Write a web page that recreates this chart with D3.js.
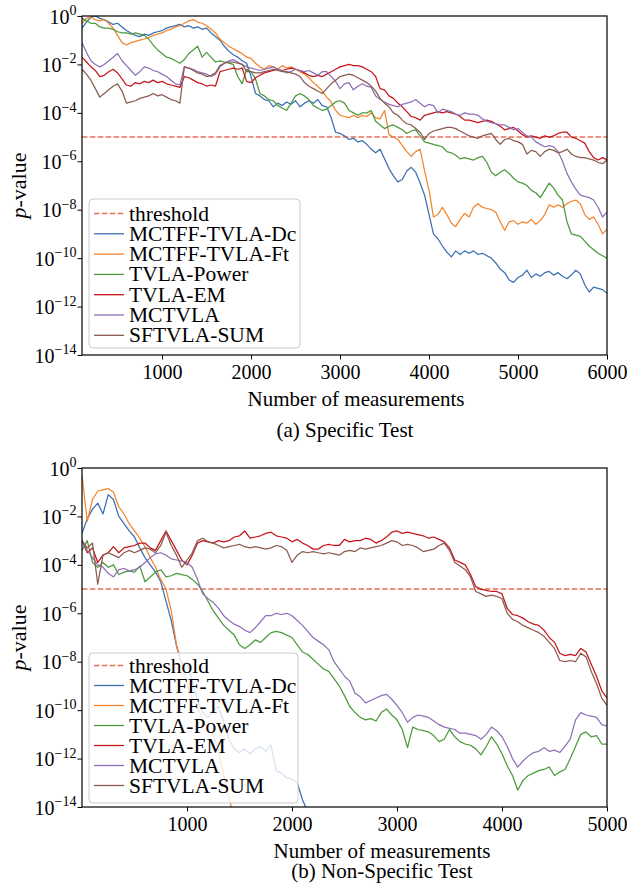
<!DOCTYPE html>
<html>
<head>
<meta charset="utf-8">
<script src="https://cdn.jsdelivr.net/npm/d3@7/dist/d3.min.js"></script>
<style>
  body { margin: 0; background: #fff; }
  svg, svg text, svg tspan { font-family: "Liberation Serif", "Times New Roman", Times, "DejaVu Serif", serif !important; }
  svg text { fill: #000; }
</style>
</head>
<body>
<div id="chart"></div>
<script>
// series names and colours, in legend order
const names = ["MCTFF-TVLA-Dc", "MCTFF-TVLA-Ft", "TVLA-Power", "TVLA-EM", "MCTVLA", "SFTVLA-SUM"];
const colors = ["#3b6fb2", "#f28530", "#4c9a3c", "#c4161c", "#8f70b8", "#8c5b4f"];
const thresholdColor = "#e8705a";
const threshold = 1e-5;
const yExps = [0, -2, -4, -6, -8, -10, -12, -14];

// (a) Specific Test, from 100 to 6000 measurements
const aStart = 100, aStep = 50;
const aTicks = [1000, 2000, 3000, 4000, 5000, 6000];
const aDc = [-0.5,-0.25,-0.05,0,-0.1,-0.15,-0.25,-0.35,-0.3,-0.45,
  -0.6,-0.7,-0.8,-0.85,-0.75,-0.8,-0.7,-0.65,-0.6,-0.5,
  -0.45,-0.4,-0.35,-0.45,-0.4,-0.5,-0.45,-0.55,-0.5,-0.7,
  -0.85,-1.0,-1.25,-1.45,-1.6,-1.7,-1.85,-1.95,-2.5,-3.2,
  -3.3,-3.45,-3.5,-3.75,-3.6,-3.7,-3.55,-3.65,-3.5,-3.75,
  -3.6,-3.5,-3.6,-3.45,-3.7,-3.75,-4.2,-4.8,-4.85,-4.95,
  -5.1,-5.05,-5.2,-5.15,-5.3,-5.5,-5.65,-5.5,-5.9,-6.3,
  -6.6,-6.85,-6.75,-6.4,-6.25,-6.45,-6.9,-7.4,-8.2,-9.0,
  -9.2,-9.5,-9.75,-9.95,-9.7,-9.85,-9.7,-9.8,-9.7,-9.85,
  -9.8,-9.9,-10.0,-10.2,-10.45,-10.6,-10.9,-11.0,-10.8,-10.7,
  -10.5,-10.8,-10.65,-10.75,-10.6,-10.55,-10.7,-10.6,-10.75,-10.85,
  -10.7,-10.5,-10.65,-11.1,-11.4,-11.2,-11.25,-11.3,-11.45];
const aFt = [-0.3,-0.1,-0.05,-0.15,-0.2,-0.15,-0.3,-0.5,-0.8,-1.1,
  -1.2,-1.1,-1.05,-1.0,-0.95,-0.9,-0.8,-0.75,-0.7,-0.6,
  -0.55,-0.45,-0.4,-0.3,-0.2,-0.15,-0.25,-0.3,-0.4,-0.55,
  -0.7,-0.95,-1.1,-1.25,-1.35,-1.45,-1.55,-1.7,-1.75,-1.95,
  -2.1,-2.2,-2.05,-2.1,-2.2,-2.05,-2.15,-2.1,-2.2,-2.3,
  -2.4,-2.55,-2.75,-2.9,-3.1,-3.35,-3.55,-3.9,-4.1,-4.15,
  -4.2,-4.1,-4.2,-4.1,-4.15,-4.0,-4.2,-4.25,-3.9,-4.9,
  -5.0,-5.1,-5.35,-5.6,-5.8,-5.6,-5.5,-6.4,-7.2,-8.3,
  -8.2,-7.9,-8.2,-8.55,-8.7,-8.4,-8.15,-8.3,-7.9,-7.75,
  -7.9,-7.95,-8.0,-8.1,-8.5,-8.85,-8.5,-8.45,-8.6,-8.5,
  -8.55,-8.4,-8.6,-8.45,-8.2,-7.8,-7.9,-7.8,-7.9,-7.75,
  -7.65,-7.6,-7.75,-8.2,-8.4,-8.3,-8.6,-9.0,-8.8];
const aPow = [-0.1,-0.2,-0.3,-0.3,-0.45,-0.5,-0.5,-0.55,-0.65,-0.7,
  -0.7,-0.75,-0.7,-0.75,-0.8,-0.95,-1.2,-1.4,-1.55,-1.7,
  -1.75,-1.85,-1.95,-1.8,-1.55,-1.4,-1.25,-1.7,-1.5,-1.7,
  -1.9,-1.85,-1.9,-1.95,-2.0,-2.5,-2.8,-2.2,-2.3,-2.6,
  -3.2,-3.3,-3.45,-3.5,-3.7,-3.8,-3.9,-3.6,-3.3,-3.2,
  -3.3,-3.45,-3.7,-3.8,-3.9,-3.85,-3.7,-3.55,-3.5,-3.6,
  -3.9,-4.0,-4.1,-4.0,-4.0,-3.9,-4.35,-4.5,-4.65,-4.55,
  -4.5,-4.6,-4.7,-4.85,-4.75,-4.7,-4.95,-5.2,-5.25,-5.3,
  -5.35,-5.4,-5.6,-5.65,-5.75,-5.9,-5.85,-5.9,-5.95,-5.85,
  -5.8,-6.05,-6.45,-6.6,-6.45,-6.35,-6.5,-6.7,-6.85,-6.9,
  -7.0,-7.2,-7.3,-7.5,-7.2,-6.9,-7.1,-7.4,-7.6,-8.5,
  -9.0,-9.05,-9.1,-9.3,-9.5,-9.65,-9.8,-9.9,-10.0];
const aEM = [-1.7,-1.9,-2.1,-2.25,-2.5,-2.45,-2.3,-2.2,-2.35,-2.6,
  -2.85,-2.9,-2.75,-2.8,-2.7,-2.75,-2.65,-2.75,-2.7,-2.8,
  -2.85,-2.9,-2.95,-2.5,-2.55,-2.65,-2.75,-2.8,-2.9,-2.85,
  -2.9,-2.3,-2.25,-2.2,-2.15,-2.2,-2.15,-2.7,-2.75,-2.55,
  -2.45,-2.35,-2.3,-2.25,-2.2,-2.25,-2.2,-2.15,-2.2,-2.25,
  -2.35,-2.45,-2.5,-2.45,-2.5,-2.4,-2.3,-2.2,-2.1,-2.05,
  -2.0,-2.05,-2.05,-2.1,-2.2,-2.3,-2.5,-3.0,-3.05,-3.3,
  -3.4,-3.6,-3.75,-3.95,-4.15,-4.2,-4.3,-4.1,-4.05,-4.0,
  -3.95,-4.0,-3.95,-4.0,-4.05,-4.15,-4.3,-4.3,-4.35,-4.4,
  -4.35,-4.3,-4.35,-4.45,-4.55,-4.7,-4.65,-4.6,-4.75,-4.9,
  -5.0,-4.95,-5.0,-5.05,-4.95,-5.0,-4.95,-4.85,-4.8,-4.8,
  -5.0,-5.05,-5.15,-5.25,-5.6,-5.85,-5.95,-5.85,-5.95];
const aMC = [-1.1,-1.5,-1.85,-2.0,-2.1,-2.0,-1.85,-1.7,-1.55,-1.85,
  -2.05,-2.25,-2.45,-2.3,-2.1,-2.15,-2.25,-2.3,-2.4,-2.5,
  -2.65,-2.8,-2.85,-2.1,-2.15,-2.2,-2.3,-2.35,-2.4,-2.5,
  -2.4,-2.1,-1.95,-1.85,-1.8,-1.9,-2.0,-2.1,-2.15,-2.2,
  -2.25,-2.2,-2.15,-2.1,-2.2,-2.25,-2.35,-2.3,-2.2,-2.25,
  -2.3,-2.25,-2.35,-2.45,-2.3,-2.3,-2.5,-2.7,-3.0,-2.8,
  -2.75,-3.05,-2.9,-2.8,-2.9,-2.95,-3.3,-3.45,-3.55,-3.65,
  -3.7,-3.75,-3.65,-3.6,-3.55,-3.45,-3.6,-3.75,-3.65,-3.7,
  -4.0,-3.85,-3.9,-3.95,-4.05,-4.1,-4.0,-4.05,-4.05,-4.1,
  -4.25,-4.35,-4.4,-4.45,-4.5,-4.5,-4.6,-4.7,-4.65,-4.8,
  -4.95,-5.0,-5.2,-5.3,-5.4,-5.35,-5.4,-5.6,-6.0,-6.5,
  -6.85,-7.15,-7.4,-7.45,-7.5,-7.6,-7.9,-8.3,-8.1];
const aSF = [-2.2,-2.4,-2.65,-3.0,-3.35,-3.2,-3.05,-2.9,-2.8,-3.1,
  -3.6,-3.55,-3.5,-3.4,-3.35,-3.3,-3.2,-3.3,-3.25,-3.35,
  -3.45,-3.5,-3.6,-2.1,-2.15,-2.25,-2.35,-2.4,-2.5,-2.45,
  -2.35,-2.05,-1.95,-1.9,-1.9,-1.95,-2.0,-2.3,-2.3,-2.35,
  -2.35,-2.3,-2.25,-2.2,-2.25,-2.3,-2.3,-2.35,-2.4,-2.5,
  -2.75,-2.9,-3.0,-3.1,-3.2,-3.0,-2.8,-2.65,-2.5,-2.45,
  -2.4,-2.45,-2.55,-2.65,-2.75,-2.9,-3.1,-3.4,-3.6,-3.75,
  -4.0,-4.1,-4.3,-4.45,-4.5,-4.65,-4.8,-5.1,-4.85,-4.75,
  -4.7,-4.65,-4.6,-4.6,-4.65,-4.75,-4.85,-4.95,-5.0,-5.05,
  -4.95,-4.9,-4.85,-5.1,-5.3,-5.1,-5.05,-5.15,-5.2,-5.3,
  -5.7,-5.55,-5.6,-5.8,-5.6,-5.5,-5.55,-5.65,-5.6,-5.5,
  -5.7,-5.8,-5.85,-5.85,-5.9,-5.95,-6.05,-6.1,-5.95];

// (b) Non-Specific Test, from 0 to 5000 measurements (Dc and Ft leave the plot early)
const bStart = 0, bStep = 50;
const bTicks = [1000, 2000, 3000, 4000, 5000];
const bDc = [-2.7,-2.1,-1.7,-1.45,-1.9,-1.1,-1.3,-2.0,-2.3,-2.6,
  -2.85,-3.3,-3.7,-4.0,-4.3,-4.7,-5.5,-6.3,-7.35,-8.1,
  -8.0,-8.8,-9.6,-10.1,-10.3,-10.0,-9.85,-10.5,-11.2,-11.6,
  -11.75,-11.6,-11.8,-11.6,-11.5,-11.7,-11.45,-12.5,-12.6,-12.8,
  -12.85,-13.0,-13.7,-14.2];
const bFt = [-0.3,-2.2,-1.3,-0.95,-0.9,-0.85,-1.0,-1.6,-1.9,-2.3,
  -2.6,-2.9,-3.25,-3.7,-4.1,-4.6,-5.0,-5.9,-7.3,-8.2,
  -8.9,-9.5,-9.9,-10.4,-10.8,-11.0,-11.7,-12.7,-13.6,-14.5];
const bPow = [-3.4,-3.0,-3.9,-4.1,-3.9,-4.1,-4.0,-4.4,-4.3,-4.25,
  -4.3,-4.05,-4.7,-4.5,-4.3,-4.2,-4.5,-4.45,-4.35,-4.4,
  -4.45,-4.6,-4.8,-5.1,-5.5,-5.9,-6.2,-6.5,-6.7,-6.9,
  -7.3,-7.45,-7.3,-7.1,-7.2,-7.0,-6.8,-6.75,-6.8,-6.9,
  -7.0,-7.3,-7.6,-7.7,-7.9,-8.1,-8.3,-8.4,-8.7,-9.0,
  -9.4,-9.85,-10.1,-10.3,-10.4,-10.35,-10.45,-10.1,-9.95,-10.2,
  -10.4,-10.8,-11.55,-10.7,-10.8,-10.85,-10.9,-11.05,-11.3,-11.2,
  -10.8,-11.1,-11.3,-11.4,-11.45,-11.6,-11.85,-11.5,-11.1,-11.4,
  -11.8,-12.3,-12.7,-13.3,-12.9,-12.7,-12.6,-12.5,-12.45,-12.35,
  -12.7,-12.55,-12.45,-12.0,-11.5,-11.0,-10.9,-11.1,-11.05,-11.4,
  -11.4];
const bEM = [-3.0,-3.5,-3.3,-3.9,-3.6,-3.5,-3.25,-3.5,-3.3,-3.25,
  -3.2,-3.1,-3.1,-3.3,-3.4,-3.0,-2.6,-3.0,-3.4,-3.8,
  -4.0,-3.6,-3.1,-3.0,-3.05,-3.1,-3.0,-3.05,-3.0,-2.85,
  -2.8,-2.6,-2.9,-2.85,-2.8,-2.7,-2.65,-2.8,-2.85,-2.9,
  -3.05,-2.95,-3.1,-3.2,-3.35,-3.35,-3.2,-3.15,-3.2,-3.2,
  -2.95,-3.05,-3.0,-3.0,-2.9,-2.95,-3.1,-3.0,-2.85,-2.65,
  -2.6,-2.7,-2.65,-2.7,-2.75,-2.8,-2.9,-2.85,-2.95,-3.05,
  -3.3,-3.8,-3.9,-4.0,-4.4,-4.9,-5.0,-5.05,-5.1,-5.1,
  -5.2,-5.8,-6.05,-6.1,-6.2,-6.35,-6.45,-6.5,-6.7,-7.0,
  -7.2,-7.65,-7.75,-7.7,-7.75,-7.45,-7.6,-8.1,-8.6,-9.2,
  -9.5];
const bMC = [-3.0,-3.4,-3.7,-4.0,-4.1,-4.35,-4.5,-4.2,-4.15,-4.25,
  -4.2,-4.1,-3.9,-3.7,-3.55,-3.5,-3.6,-3.75,-3.8,-3.85,
  -3.9,-4.1,-4.6,-5.2,-5.4,-5.55,-5.8,-6.1,-6.3,-6.45,
  -6.55,-6.7,-6.8,-6.6,-6.35,-6.1,-6.1,-6.0,-6.05,-6.0,
  -6.1,-6.3,-6.5,-6.75,-7.0,-7.15,-7.3,-7.5,-8.0,-8.3,
  -8.6,-8.8,-9.3,-9.45,-9.7,-9.6,-9.5,-9.4,-9.35,-9.55,
  -9.8,-10.1,-10.5,-10.3,-10.2,-10.25,-10.3,-10.45,-10.6,-10.7,
  -10.75,-10.8,-10.95,-10.95,-11.0,-11.05,-11.2,-11.0,-10.7,-10.85,
  -11.1,-11.5,-12.0,-12.35,-12.1,-11.9,-11.75,-11.7,-11.55,-11.7,
  -11.65,-11.75,-11.5,-11.2,-10.4,-10.1,-10.2,-10.25,-10.3,-10.6,
  -10.65];
const bSF = [-3.0,-3.3,-3.1,-4.8,-3.6,-3.5,-3.6,-3.7,-3.5,-3.4,
  -3.5,-3.4,-3.3,-3.35,-3.5,-3.2,-2.65,-3.2,-3.6,-4.1,
  -3.8,-3.5,-3.0,-2.9,-3.05,-3.1,-3.2,-3.3,-3.25,-3.2,
  -3.15,-3.25,-3.3,-3.25,-3.3,-3.35,-3.3,-3.2,-3.25,-3.4,
  -3.9,-3.6,-3.45,-3.5,-3.45,-3.5,-3.55,-3.5,-3.55,-3.6,
  -3.45,-3.4,-3.45,-3.3,-3.35,-3.3,-3.25,-3.2,-3.1,-3.0,
  -3.05,-3.2,-3.15,-3.2,-3.3,-3.45,-3.4,-3.35,-3.2,-3.1,
  -3.4,-3.9,-4.05,-4.2,-4.5,-5.1,-5.2,-5.3,-5.25,-5.3,
  -5.4,-6.0,-6.25,-6.35,-6.5,-6.6,-6.7,-6.8,-6.95,-7.2,
  -7.45,-7.95,-8.0,-7.95,-8.0,-7.65,-7.8,-8.4,-8.9,-9.5,
  -9.8];

const W = 642, H = 893;
const svg = d3.select("#chart").append("svg")
  .attr("width", W)
  .attr("height", H)
  .attr("font-family", "Liberation Serif, DejaVu Serif, serif");

// one panel = one matplotlib axes
function drawPanel(p) {
  const x = d3.scaleLinear().domain(p.xDomain).range([82, 607]);
  const y = d3.scaleLog().domain([1e-14, 1]).range([p.bottom, p.top]);
  const g = svg.append("g");

  g.append("clipPath").attr("id", p.id)
    .append("rect")
    .attr("x", 82).attr("y", p.top)
    .attr("width", 525).attr("height", p.bottom - p.top);

  const plot = g.append("g").attr("clip-path", `url(#${p.id})`);

  // threshold first, it sits under the curves
  plot.append("line")
    .attr("x1", 82).attr("x2", 607)
    .attr("y1", y(threshold)).attr("y2", y(threshold))
    .attr("stroke", thresholdColor)
    .attr("stroke-width", 1.5)
    .attr("stroke-dasharray", "5.5,2.4");

  const line = d3.line()
    .x((v, i) => x(p.start + i * p.step))
    .y(v => y(Math.pow(10, v)));

  p.series.forEach((s, k) => {
    plot.append("path")
      .datum(s)
      .attr("d", line)
      .attr("fill", "none")
      .attr("stroke", colors[k])
      .attr("stroke-width", 1.25)
      .attr("stroke-linejoin", "round");
  });

  // axes
  const yAxis = d3.axisLeft(y)
    .tickValues(yExps.map(e => Math.pow(10, e)))
    .tickSize(4.5)
    .tickFormat("");
  const yg = g.append("g").attr("transform", "translate(82,0)").call(yAxis);
  yg.attr("font-family", null);
  yg.select(".domain").remove();
  yg.selectAll(".tick line").attr("stroke", "#000").attr("stroke-width", 1);
  yg.selectAll(".tick").append("text")
    .attr("x", -5.5)
    .attr("y", 7)
    .attr("text-anchor", "end")
    .attr("font-size", 20)
    .each(function (d) {
      const e = Math.round(Math.log10(d));
      const t = d3.select(this);
      t.append("tspan").text("10");
      t.append("tspan").attr("dy", -8.5).attr("font-size", 14)
        .text(e < 0 ? "\u2212" + (-e) : String(e));
    });

  const xAxis = d3.axisBottom(x)
    .tickValues(p.ticks)
    .tickSize(4.5)
    .tickFormat(d3.format("d"));
  const xg = g.append("g").attr("transform", `translate(0,${p.bottom})`).call(xAxis);
  xg.attr("font-family", null);
  xg.select(".domain").remove();
  xg.selectAll(".tick line").attr("stroke", "#000").attr("stroke-width", 1);
  xg.selectAll(".tick text")
    .attr("y", 24).attr("dy", 0)
    .attr("font-size", 20)
    .attr("fill", "#000");

  // frame
  g.append("rect")
    .attr("x", 82).attr("y", p.top)
    .attr("width", 525).attr("height", p.bottom - p.top)
    .attr("fill", "none")
    .attr("stroke", "#000")
    .attr("stroke-width", 1.2);

  // labels
  const midY = (p.top + p.bottom) / 2;
  const yl = g.append("text")
    .attr("transform", `translate(26,${midY}) rotate(-90)`)
    .attr("text-anchor", "middle")
    .attr("font-size", 22);
  yl.append("tspan").attr("font-style", "italic").text("p");
  yl.append("tspan").text("-value");

  g.append("text")
    .attr("x", p.xlabelX).attr("y", p.xlabelY)
    .attr("text-anchor", "middle")
    .attr("font-size", 21)
    .text("Number of measurements");

  g.append("text")
    .attr("x", p.captionX).attr("y", p.captionY)
    .attr("text-anchor", "middle")
    .attr("font-size", 21)
    .text(p.caption);

  // legend drawn over the curves, semi transparent like matplotlib
  const L = p.legend;
  const lg = g.append("g");
  lg.append("rect")
    .attr("x", L.x).attr("y", L.y)
    .attr("width", L.w).attr("height", L.h)
    .attr("rx", 4)
    .attr("fill", "#fff").attr("fill-opacity", 0.8)
    .attr("stroke", "#cccccc").attr("stroke-width", 1);

  const items = [{ name: "threshold", color: thresholdColor, dash: true }]
    .concat(names.map((n, k) => ({ name: n, color: colors[k], dash: false })));

  items.forEach((it, i) => {
    const cy = L.first + i * L.gap;
    lg.append("line")
      .attr("x1", 94).attr("x2", 124)
      .attr("y1", cy).attr("y2", cy)
      .attr("stroke", it.color)
      .attr("stroke-width", it.dash ? 1.5 : 1.3)
      .attr("stroke-dasharray", it.dash ? "5.5,2.4" : null);
    lg.append("text")
      .attr("x", 129).attr("y", cy + 7)
      .attr("font-size", 21.5)
      .text(it.name);
  });
}

drawPanel({
  id: "clipA", top: 16, bottom: 355,
  xDomain: [100, 6000], ticks: aTicks,
  start: aStart, step: aStep,
  series: [aDc, aFt, aPow, aEM, aMC, aSF],
  xlabelX: 356, xlabelY: 406,
  caption: "(a) Specific Test", captionX: 345, captionY: 437,
  legend: { x: 89, y: 199, w: 211, h: 149, first: 213.5, gap: 20.3 }
});

drawPanel({
  id: "clipB", top: 468, bottom: 807,
  xDomain: [0, 5000], ticks: bTicks,
  start: bStart, step: bStep,
  series: [bDc, bFt, bPow, bEM, bMC, bSF],
  xlabelX: 382, xlabelY: 858,
  caption: "(b) Non-Specific Test", captionX: 382, captionY: 878,
  legend: { x: 89, y: 653, w: 209, h: 150, first: 665.5, gap: 20 }
});
</script>
</body>
</html>
